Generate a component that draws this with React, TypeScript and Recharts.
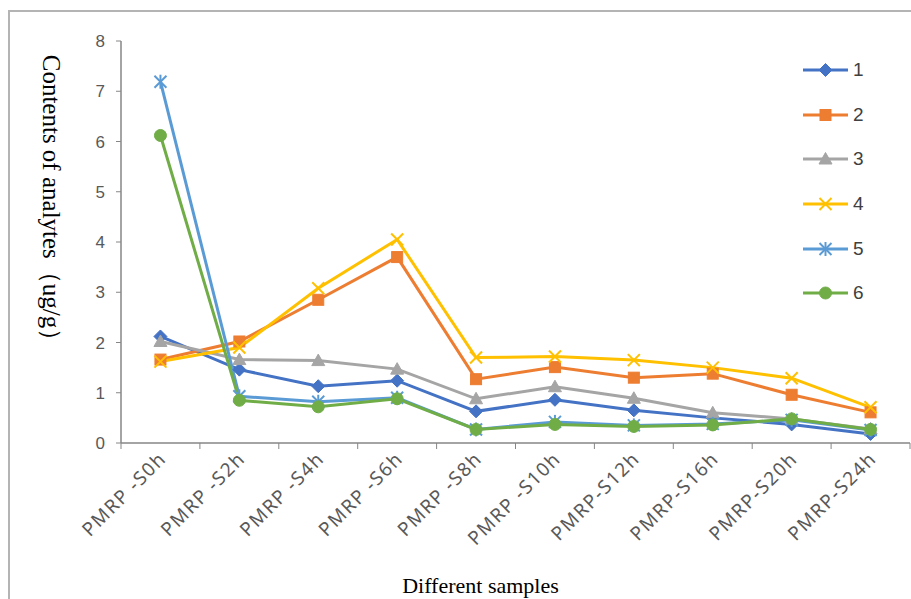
import React from "react";
import { LineChart, Line, XAxis, YAxis, Label } from "recharts";

const categories = [
  "PMRP -S0h",
  "PMRP -S2h",
  "PMRP -S4h",
  "PMRP -S6h",
  "PMRP -S8h",
  "PMRP -S10h",
  "PMRP-S12h",
  "PMRP-S16h",
  "PMRP-S20h",
  "PMRP-S24h",
];
const series1 = [2.12, 1.46, 1.13, 1.24, 0.63, 0.86, 0.65, 0.5, 0.37, 0.18];
const series2 = [1.66, 2.02, 2.85, 3.7, 1.27, 1.51, 1.3, 1.38, 0.96, 0.61];
const series3 = [2.02, 1.66, 1.64, 1.47, 0.88, 1.12, 0.89, 0.6, 0.48, 0.28];
const series4 = [1.62, 1.9, 3.08, 4.05, 1.7, 1.72, 1.65, 1.5, 1.29, 0.71];
const series5 = [7.19, 0.93, 0.82, 0.9, 0.27, 0.42, 0.35, 0.38, 0.46, 0.26];
const series6 = [6.12, 0.85, 0.72, 0.88, 0.27, 0.37, 0.33, 0.36, 0.48, 0.27];
const yTicks = [0, 1, 2, 3, 4, 5, 6, 7, 8];
const seriesNames = ["1", "2", "3", "4", "5", "6"];

const data = categories.map((name, i) => ({
  pos: i + 0.5,
  name,
  s1: series1[i],
  s2: series2[i],
  s3: series3[i],
  s4: series4[i],
  s5: series5[i],
  s6: series6[i],
}));

const xTicks: number[] = [];
for (let i = 0; i <= categories.length * 2; i++) xTicks.push(i / 2);

const COLORS = ["#4472C4", "#ED7D31", "#A5A5A5", "#FFC000", "#5B9BD5", "#70AD47"];
const SHAPES = ["diamond", "square", "triangle", "x", "star", "circle"];

function Marker({ shape, color, cx, cy }: { shape: string; color: string; cx: number; cy: number }) {
  if (cx == null || cy == null || isNaN(cx) || isNaN(cy)) return null;
  const r = 6.5;
  switch (shape) {
    case "diamond":
      return (
        <polygon
          points={`${cx},${cy - r} ${cx + r},${cy} ${cx},${cy + r} ${cx - r},${cy}`}
          fill={color}
          stroke={color}
          strokeWidth={1}
        />
      );
    case "square":
      return <rect x={cx - 5.5} y={cy - 5.5} width={11} height={11} fill={color} stroke={color} strokeWidth={1} />;
    case "triangle":
      return (
        <polygon
          points={`${cx},${cy - 6.5} ${cx + 6.5},${cy + 5} ${cx - 6.5},${cy + 5}`}
          fill={color}
          stroke={color}
          strokeWidth={1}
        />
      );
    case "x":
      return (
        <g stroke={color} strokeWidth={2}>
          <line x1={cx - 6} y1={cy - 6} x2={cx + 6} y2={cy + 6} />
          <line x1={cx - 6} y1={cy + 6} x2={cx + 6} y2={cy - 6} />
        </g>
      );
    case "star":
      return (
        <g stroke={color} strokeWidth={2}>
          <line x1={cx - 6} y1={cy - 6} x2={cx + 6} y2={cy + 6} />
          <line x1={cx - 6} y1={cy + 6} x2={cx + 6} y2={cy - 6} />
          <line x1={cx} y1={cy - 7} x2={cx} y2={cy + 7} />
        </g>
      );
    default:
      return <circle cx={cx} cy={cy} r={6} fill={color} stroke={color} strokeWidth={1} />;
  }
}

const makeDot = (i: number) => (props: any) => (
  <Marker key={`d${i}-${props.index}`} shape={SHAPES[i]} color={COLORS[i]} cx={props.cx} cy={props.cy} />
);

function XTick(props: any) {
  const { x, y, payload } = props;
  const v = payload.value as number;
  if (Number.isInteger(v)) {
    return <line x1={x} y1={y} x2={x} y2={y + 6} stroke="#868686" strokeWidth={1} />;
  }
  const label = categories[Math.floor(v)];
  const tx = x + 7;
  const ty = y + 17;
  return (
    <text
      x={tx}
      y={ty}
      textAnchor="end"
      transform={`rotate(-45, ${tx}, ${ty})`}
      fontFamily="'Noto Sans', Arial, sans-serif"
      fontSize={19}
      letterSpacing={1.5}
      fill="#595959"
    >
      {label}
    </text>
  );
}

function LegendBox() {
  return (
    <div style={{ position: "absolute", left: 792, top: 36, display: "flex", flexDirection: "column" }}>
      {seriesNames.map((n, i) => (
        <div key={n} style={{ height: 44.6, display: "flex", alignItems: "center" }}>
          <svg width={48} height={20}>
            <line x1={1} y1={10} x2={46} y2={10} stroke={COLORS[i]} strokeWidth={3} />
            <Marker shape={SHAPES[i]} color={COLORS[i]} cx={23.5} cy={10} />
          </svg>
          <span
            style={{
              fontFamily: "'Liberation Sans', Arial, sans-serif",
              fontSize: 19,
              color: "#404040",
              marginLeft: 3,
            }}
          >
            {n}
          </span>
        </div>
      ))}
    </div>
  );
}

export default function App() {
  const keys = ["s1", "s2", "s3", "s4", "s5", "s6"];
  return (
    <div
      style={{
        position: "absolute",
        left: 8,
        top: 10,
        width: 901,
        height: 589,
        borderLeft: "2px solid #B4B4B4",
        borderTop: "2px solid #B4B4B4",
        overflow: "hidden",
        background: "#fff",
      }}
    >
      <LineChart width={901} height={587} data={data} margin={{ top: 29, right: 1, bottom: 0, left: 51 }}>
        <XAxis
          xAxisId={0}
          type="number"
          dataKey="pos"
          domain={[0, categories.length]}
          ticks={xTicks}
          interval={0}
          height={156}
          tickLine={false}
          tickMargin={0}
          tickSize={0}
          axisLine={{ stroke: "#868686", strokeWidth: 1.5 }}
          tick={<XTick />}
        >
          <Label
            content={(p: any) => {
              const vb = p.viewBox;
              return (
                <text
                  x={vb.x + vb.width / 2 - 35}
                  y={vb.y + vb.height - 6}
                  textAnchor="middle"
                  fontFamily="'Liberation Serif', 'Times New Roman', serif"
                  fontSize={22}
                  fill="#000"
                >
                  Different samples
                </text>
              );
            }}
          />
        </XAxis>
        <YAxis
          width={60}
          domain={[0, 8]}
          ticks={yTicks}
          interval={0}
          tickSize={5}
          tickMargin={11}
          axisLine={{ stroke: "#868686", strokeWidth: 1.5 }}
          tickLine={{ stroke: "#868686" }}
          tick={{ fontFamily: "'Liberation Sans', Arial, sans-serif", fontSize: 17, fill: "#595959" }}
        >
          <Label
            content={(p: any) => {
              const vb = p.viewBox;
              const cx = vb.x - 10;
              const cy = vb.y + vb.height / 2 - 38;
              return (
                <text
                  x={cx}
                  y={cy}
                  textAnchor="middle"
                  dominantBaseline="central"
                  transform={`rotate(90, ${cx}, ${cy})`}
                  fontFamily="'Liberation Serif', 'Times New Roman', serif"
                  fontSize={25}
                  fill="#000"
                >
                  Contents of analytes（ug/g）
                </text>
              );
            }}
          />
        </YAxis>
        {keys.map((k, i) => (
          <Line
            key={k}
            dataKey={k}
            name={seriesNames[i]}
            type="linear"
            stroke={COLORS[i]}
            strokeWidth={3}
            dot={makeDot(i)}
            activeDot={false}
            isAnimationActive={false}
          />
        ))}
      </LineChart>
      <LegendBox />
    </div>
  );
}
